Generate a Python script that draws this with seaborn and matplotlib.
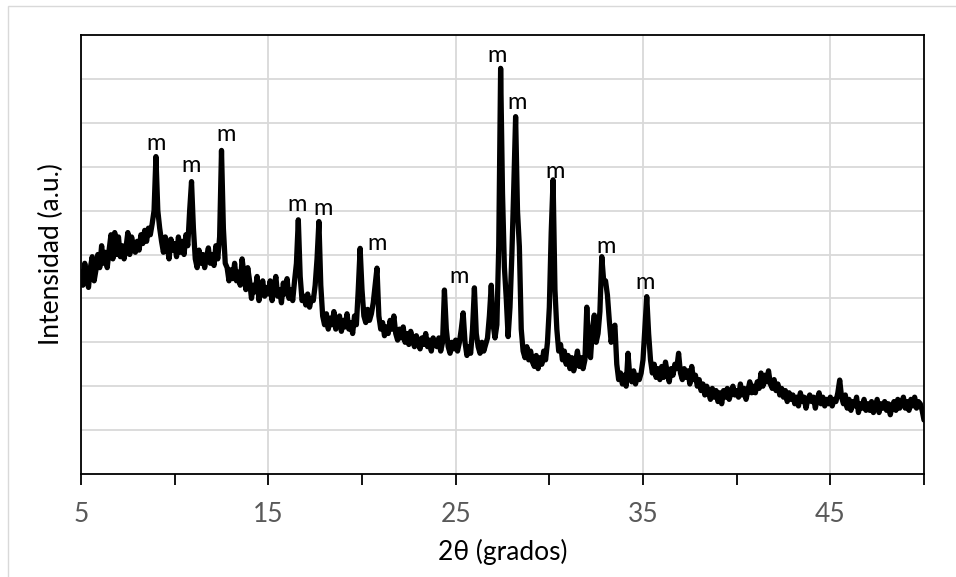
import numpy as np
import pandas as pd
import matplotlib
matplotlib.use("Agg")
import matplotlib.pyplot as plt
import seaborn as sns
from matplotlib.patches import Rectangle

# intensity (a.u.), one row per degree, step 0.1 deg from 5.0 to 50.0
intensity_rows = [
    [460, 430, 480, 450, 425, 470, 495, 440, 465, 500],  # 5
    [470, 520, 480, 505, 470, 510, 545, 490, 550, 500],  # 6
    [540, 495, 520, 490, 515, 550, 500, 540, 520, 505],  # 7
    [530, 510, 545, 525, 555, 530, 560, 545, 570, 600],  # 8
    [723, 600, 560, 530, 505, 540, 520, 490, 535, 510],  # 9
    [525, 495, 540, 505, 530, 500, 545, 520, 600, 666],  # 10
    [560, 490, 470, 510, 480, 500, 470, 495, 515, 480],  # 11
    [500, 475, 520, 490, 540, 737, 560, 480, 470, 440],  # 12
    [465, 445, 480, 440, 460, 430, 490, 455, 420, 470],  # 13
    [440, 400, 430, 415, 450, 395, 420, 440, 405, 425],  # 14
    [410, 440, 395, 425, 450, 405, 420, 390, 435, 410],  # 15
    [445, 400, 420, 395, 440, 480, 579, 450, 395, 405],  # 16
    [385, 410, 380, 400, 395, 430, 490, 575, 430, 360],  # 17
    [340, 365, 330, 355, 340, 370, 330, 345, 360, 325],  # 18
    [350, 335, 365, 330, 345, 320, 360, 340, 420, 514],  # 19
    [420, 360, 345, 375, 350, 365, 390, 430, 469, 360],  # 20
    [330, 345, 315, 335, 320, 350, 330, 360, 320, 305],  # 21
    [330, 310, 335, 300, 320, 295, 325, 305, 290, 315],  # 22
    [300, 285, 310, 295, 320, 290, 305, 280, 310, 295],  # 23
    [290, 310, 280, 300, 419, 330, 290, 275, 300, 285],  # 24
    [305, 280, 300, 330, 367, 300, 270, 290, 275, 330],  # 25
    [424, 320, 290, 275, 300, 280, 295, 310, 360, 430],  # 26
    [340, 310, 340, 520, 924, 640, 472, 400, 313, 380],  # 27
    [500, 650, 814, 600, 518, 330, 280, 265, 290, 260],  # 28
    [280, 255, 245, 270, 240, 265, 250, 280, 260, 300],  # 29
    [380, 550, 670, 420, 330, 280, 295, 260, 280, 250],  # 30
    [270, 240, 265, 235, 255, 280, 245, 265, 240, 260],  # 31
    [380, 280, 265, 330, 362, 300, 320, 370, 495, 440],  # 32
    [440, 408, 350, 300, 330, 339, 250, 215, 230, 205],  # 33
    [225, 200, 275, 220, 210, 235, 205, 225, 215, 230],  # 34
    [260, 330, 404, 320, 260, 230, 250, 220, 240, 215],  # 35
    [245, 220, 255, 230, 210, 240, 225, 250, 240, 275],  # 36
    [230, 215, 240, 220, 235, 205, 245, 215, 225, 200],  # 37
    [215, 190, 205, 180, 200, 185, 170, 195, 175, 190],  # 38
    [165, 185, 160, 190, 175, 195, 170, 185, 200, 180],  # 39
    [190, 175, 205, 180, 195, 170, 190, 210, 185, 200],  # 40
    [185, 210, 195, 230, 200, 225, 210, 235, 205, 195],  # 41
    [215, 190, 205, 180, 195, 175, 190, 165, 185, 170],  # 42
    [180, 160, 175, 155, 185, 165, 175, 150, 170, 180],  # 43
    [165, 175, 150, 170, 185, 160, 175, 155, 170, 160],  # 44
    [175, 155, 170, 165, 185, 214, 175, 160, 180, 150],  # 45
    [170, 145, 165, 155, 175, 140, 160, 150, 170, 145],  # 46
    [160, 145, 165, 140, 155, 170, 140, 160, 150, 165],  # 47
    [145, 160, 135, 155, 165, 145, 170, 150, 160, 175],  # 48
    [150, 165, 145, 170, 155, 175, 150, 165, 160, 145],  # 49
    [123],                                               # 50
]

intensity = [v for row in intensity_rows for v in row]
two_theta = np.round(5.0 + 0.1 * np.arange(len(intensity)), 1)

# peak labels "m"
label_x = [9.00, 10.87, 12.74, 16.53, 17.92, 20.80, 25.18, 27.21, 28.28, 30.31, 33.03, 35.12]
label_y = [752, 702, 774, 613, 604, 524, 451, 954, 847, 688, 519, 437]

df = pd.DataFrame({"2θ": two_theta, "I": intensity})

sns.set_theme(style="white")
plt.rcParams['font.family'] = ['Lato', 'DejaVu Sans']

fig = plt.figure(figsize=(9.56, 5.77), dpi=100)
ax = fig.add_axes([81 / 956, 1 - 474 / 577, (924 - 81) / 956, (474 - 35) / 577])

# outer chart-area frame
fig.patches.append(Rectangle((8 / 956, -0.5), 2, 1.5 - 6 / 577, transform=fig.transFigure,
                             fill=False, edgecolor='#d9d9d9', linewidth=1.0))

sns.lineplot(data=df, x="2θ", y="I", color='black', linewidth=3.8, ax=ax, zorder=3)

for xx, yy in zip(label_x, label_y):
    ax.text(xx, yy, "m", ha='center', va='center', fontsize=17, color='black', zorder=4)

ax.set_xlim(5, 50)
ax.set_ylim(0, 1000)
ax.set_xticks([5, 15, 25, 35, 45])
ax.set_xticks([10, 20, 30, 40, 50], minor=True)
ax.set_yticks(np.arange(100, 1000, 100))
ax.set_yticklabels([])
ax.tick_params(axis='y', length=0)
ax.tick_params(axis='x', which='both', direction='out', length=8, width=1.3, color='black',
               bottom=True, labelsize=19, labelcolor='#595959', pad=12)
ax.grid(True, which='major', color='#d9d9d9', linewidth=1.3, zorder=0)
ax.set_axisbelow(True)
for s in ax.spines.values():
    s.set_color('black')
    s.set_linewidth(1.3)
    s.set_visible(True)

ax.set_xlabel("2θ (grados)", fontsize=19, color='black', labelpad=9)
ax.set_ylabel("Intensidad (a.u.)", fontsize=19, color='black', labelpad=9)

fig.savefig("out.png", dpi=100)
